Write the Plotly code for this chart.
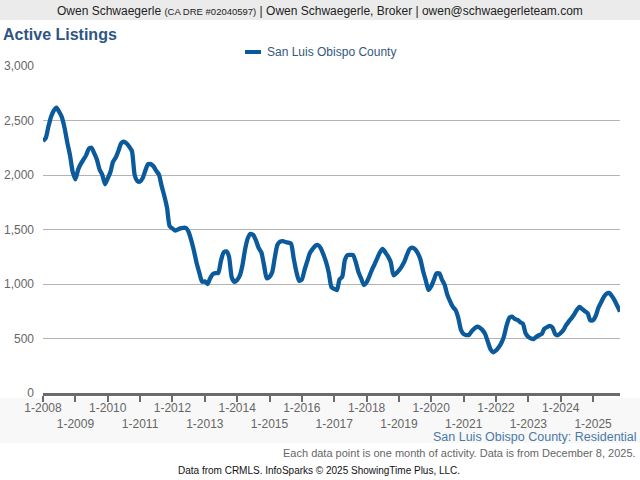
import pandas as pd
import plotly.graph_objects as go

# ---- data ----
start_month = "2008-01-01"
active_listings = [
    # 2008
    2312, 2340, 2440, 2535, 2590, 2617, 2580, 2530, 2430, 2300, 2180, 2030,
    # 2009
    1960, 2050, 2100, 2140, 2180, 2240, 2250, 2200, 2140, 2050, 2000, 1915,
    # 2010
    1970, 2030, 2120, 2160, 2220, 2290, 2305, 2290, 2260, 2220, 2000, 1945,
    # 2011
    1940, 1975, 2040, 2100, 2100, 2080, 2040, 2005, 1900, 1810, 1700, 1530,
    # 2012
    1510, 1490, 1500, 1510, 1515, 1515, 1480, 1400, 1300, 1190, 1100, 1021,
    # 2013
    1025, 1000, 1050, 1090, 1100, 1100, 1210, 1290, 1300, 1250, 1060, 1020,
    # 2014
    1037, 1080, 1170, 1320, 1420, 1460, 1450, 1400, 1330, 1290, 1170, 1052,
    # 2015
    1065, 1110, 1240, 1360, 1388, 1394, 1385, 1380, 1370, 1236, 1110, 1030,
    # 2016
    1040, 1130, 1205, 1285, 1320, 1350, 1358, 1330, 1270, 1200, 1100, 970,
    # 2017
    955, 945, 1040, 1067, 1220, 1266, 1266, 1266, 1200, 1110, 1050, 991,
    # 2018
    1015, 1070, 1128, 1180, 1236, 1290, 1321, 1290, 1251, 1200, 1080, 1098,
    # 2019
    1125, 1160, 1200, 1266, 1320, 1333, 1320, 1285, 1225, 1120, 1030, 945,
    # 2020
    980, 1040, 1098, 1098, 1040, 990, 900, 840, 790, 761, 690, 580,
    # 2021
    540, 532, 532, 565, 590, 608, 600, 578, 540, 470, 400, 373,
    # 2022
    390, 420, 456, 520, 620, 690, 700, 680, 670, 650, 635, 548,
    # 2023
    515, 500, 495, 515, 530, 541, 590, 605, 615, 600, 540, 530,
    # 2024
    550, 578, 620, 655, 685, 720, 761, 790, 770, 750, 731, 665,
    # 2025
    668, 710, 780, 830, 880, 910, 918, 890, 850, 800, 746,
]
tick_years = list(range(2008, 2026))
y_ticks = [0, 500, 1000, 1500, 2000, 2500, 3000]
series_name = "San Luis Obispo County"

dates = pd.date_range(start_month, periods=len(active_listings), freq="MS")
tick_vals = [pd.Timestamp(f"{y}-01-01") for y in tick_years]
tick_text = [f"1-{y}" if (y % 2 == 0) else f"<br>1-{y}" for y in tick_years]

LINE = "#0a5a9c"
FONT = "Liberation Sans, Arial, sans-serif"

# pixel helpers for paper coordinates (plot area: x 43..620, y 66..393)
L, R, T, B = 43, 20, 66, 87
PW, PH = 640 - L - R, 480 - T - B


def px(x):
    return (x - L) / PW


def py(y):
    return (480 - B - y) / PH


fig = go.Figure()
fig.add_trace(go.Scatter(
    x=dates, y=active_listings, mode="lines", name=series_name,
    line=dict(color=LINE, width=4.3, shape="spline", smoothing=0.6),
    showlegend=False, hoverinfo="x+y",
))

fig.update_layout(
    width=640, height=480, autosize=False,
    margin=dict(l=L, r=R, t=T, b=B),
    paper_bgcolor="white", plot_bgcolor="white",
    font=dict(family=FONT, size=12, color="#666666"),
    xaxis=dict(
        range=[dates[0], dates[-1]],
        tickvals=tick_vals, ticktext=tick_text, tickangle=0,
        automargin=False,
        showgrid=False, zeroline=False,
        showline=True, linecolor="#6b6b6b", linewidth=3,
        ticks="outside", ticklen=2, tickwidth=2, tickcolor="#6b6b6b",
        minor=dict(tickvals=tick_vals, ticks="outside", ticklen=6,
                   tickwidth=2, tickcolor="#6b6b6b", showgrid=False),
        tickfont=dict(family=FONT, size=12, color="#666666"),
    ),
    yaxis=dict(
        range=[0, 3000], tickvals=y_ticks, tickformat=",d",
        automargin=False,
        showgrid=True, gridcolor="#b4b4b4", gridwidth=1,
        zeroline=False, showline=False,
        ticklabelstandoff=8,
        tickfont=dict(family=FONT, size=12, color="#666666"),
    ),
    shapes=[
        dict(type="rect", xref="paper", yref="paper",
             x0=px(0), x1=px(640), y0=py(20), y1=py(0),
             fillcolor="#ebebeb", line=dict(width=0), layer="below"),
        dict(type="rect", xref="paper", yref="paper",
             x0=px(0), x1=px(640), y0=py(443), y1=py(398),
             fillcolor="#f8f8f8", line=dict(width=0), layer="below"),
        dict(type="line", xref="paper", yref="paper",
             x0=px(245), x1=px(261), y0=py(52), y1=py(52),
             line=dict(color=LINE, width=4)),
    ],
    annotations=[
        dict(xref="paper", yref="paper", x=px(320), y=py(11),
             xanchor="center", yanchor="middle", showarrow=False,
             text="Owen Schwaegerle <span style='font-size:9.5px'>(CA DRE #02040597)</span> | Owen Schwaegerle, Broker | owen@schwaegerleteam.com",
             font=dict(family=FONT, size=12, color="#222222")),
        dict(xref="paper", yref="paper", x=px(1), y=py(35),
             xanchor="left", yanchor="middle", showarrow=False,
             text="<b>Active Listings</b>",
             font=dict(family=FONT, size=16, color="#2e5584")),
        dict(xref="paper", yref="paper", x=px(265), y=py(52),
             xanchor="left", yanchor="middle", showarrow=False,
             text=series_name,
             font=dict(family=FONT, size=12, color="#34587e")),
        dict(xref="paper", yref="paper", x=px(639), y=py(436.5),
             xanchor="right", yanchor="middle", showarrow=False,
             text="San Luis Obispo County: Residential",
             font=dict(family=FONT, size=12.5, color="#4a78a8")),
        dict(xref="paper", yref="paper", x=px(638), y=py(452.5),
             xanchor="right", yanchor="middle", showarrow=False,
             text="Each data point is one month of activity. Data is from December 8, 2025.",
             font=dict(family=FONT, size=11, color="#666666")),
        dict(xref="paper", yref="paper", x=px(319), y=py(470),
             xanchor="center", yanchor="middle", showarrow=False,
             text="Data from CRMLS. InfoSparks © 2025 ShowingTime Plus, LLC.",
             font=dict(family=FONT, size=10, color="#111111")),
    ],
)

fig.write_html(
    "out.html",
    config={"displayModeBar": False},
    post_script="document.body.style.margin='0';document.body.style.overflow='hidden';",
)
